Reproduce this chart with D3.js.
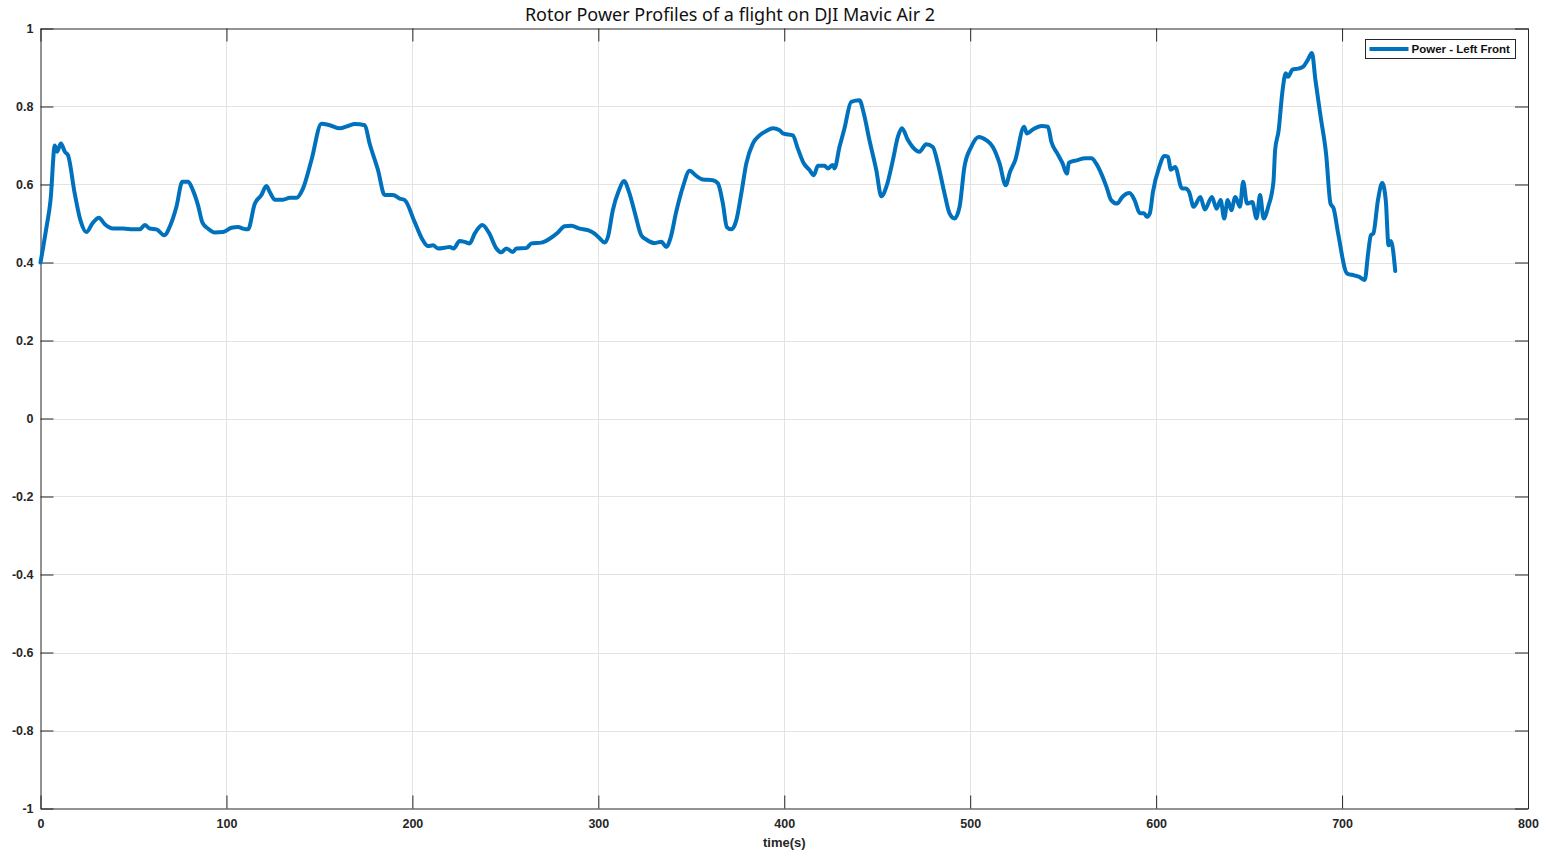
<!DOCTYPE html>
<meta charset="utf-8">
<head>
  <title>Rotor Power Profiles</title>
</head>
<style>
body {
  margin: 0;
  background: white;
}
svg text {
  font-family: "Liberation Sans", Arial, sans-serif;
}
.tick text {
  font-size: 12.5px;
  font-weight: bold;
  fill: #262626;
}
.grid line {
  stroke: #e3e3e3;
  stroke-width: 1;
}
</style>
<body>
<div id="chart"></div>
<script src="https://cdnjs.cloudflare.com/ajax/libs/d3/7.8.5/d3.min.js"></script>
<script>
// time (s) samples
var time = [0, 3.2, 5.4, 7.7, 8.9, 11, 13.1, 14.8, 18.4, 21.5, 24.7, 27.9, 31.4, 34.6, 39, 44.4, 49.8, 53.4, 56.1, 58.8,
  62.4, 66.5, 69.9, 73.1, 76.3, 79.4, 82, 84.7, 87.1, 90.1, 93.7, 98.2, 102.7, 106.3, 108.9, 111.6, 115.2, 118.8, 121.5, 123.3,
  126, 130.5, 134.1, 137.7, 141.2, 145.7, 151.1, 155.5, 160.9, 165.4, 169, 174.4, 177, 181.5, 185.1, 189.6, 193.2, 195.9, 201.2, 205.4,
  208.4, 211.1, 213.8, 217.4, 220.1, 222.2, 225.4, 228.1, 230.8, 233.5, 237.6, 241.2, 245.2, 247.8, 250.5, 254.1, 255.9, 261.3, 264, 269.4,
  273.8, 278.3, 281.9, 285.5, 289.9, 294.4, 298, 300.7, 303.4, 305.2, 307.8, 311.1, 313.8, 316.5, 319.5, 323.1, 325.8, 330.3, 333.9, 336.6,
  338.9, 341.9, 345.5, 349.1, 352.7, 356.2, 361.6, 364.3, 367, 369.1, 371.5, 374.2, 376.9, 379.6, 383.1, 386.7, 390.3, 393.9, 397.5, 399.3,
  404.6, 407.3, 410.4, 413.6, 415.9, 418.1, 421.7, 423.4, 426.1, 427, 429.7, 432.4, 436, 440.5, 442.6, 445.8, 449.5, 452.2, 454.9, 458.4,
  461.1, 463.3, 466.5, 469.1, 472.7, 476.3, 479.9, 482.6, 486.2, 488.9, 491.6, 494.3, 496.9, 500.5, 504.6, 508.6, 512.2, 515.8, 519.1, 521.4,
  524.2, 529, 530.5, 533.7, 538.4, 541.8, 543.7, 546.9, 549.7, 552, 553.1, 557.3, 562, 565.2, 567.7, 570.5, 573.3, 575.8, 579, 581.8,
  585.7, 588.4, 591.3, 593.5, 595, 596.6, 598.3, 601.7, 604.5, 606.4, 607.9, 610.2, 613.9, 615.9, 617.7, 620.2, 623.8, 626.2, 630, 632.5,
  634.7, 636.6, 638.5, 640.4, 642.6, 645.1, 646.8, 648.9, 651.7, 654, 655.9, 657.8, 660.3, 663.1, 664, 665.9, 667.8, 669.7, 670.9, 673.4,
  676.3, 679.1, 681.5, 683.8, 685.7, 688.5, 691.4, 693.8, 695.5, 697.9, 702.7, 706.5, 709.3, 712.2, 714, 715.5, 716.8, 719.3, 721.6, 723.5,
  725, 726.3, 728.6];

// normalised power of the left front rotor
var powerLeftFront = [0.40, 0.49, 0.56, 0.70, 0.684, 0.705, 0.684, 0.675, 0.577, 0.508, 0.478, 0.50, 0.515, 0.498, 0.487, 0.487, 0.485, 0.485, 0.496, 0.487,
  0.485, 0.47, 0.496, 0.543, 0.607, 0.607, 0.585, 0.547, 0.502, 0.487, 0.477, 0.478, 0.489, 0.491, 0.487, 0.485, 0.55, 0.573, 0.596, 0.581,
  0.561, 0.561, 0.566, 0.566, 0.59, 0.662, 0.756, 0.752, 0.744, 0.75, 0.755, 0.752, 0.705, 0.637, 0.573, 0.573, 0.564, 0.56, 0.504, 0.459,
  0.442, 0.444, 0.436, 0.438, 0.44, 0.436, 0.455, 0.453, 0.449, 0.474, 0.496, 0.476, 0.436, 0.426, 0.436, 0.427, 0.436, 0.437, 0.449, 0.451,
  0.461, 0.477, 0.493, 0.494, 0.487, 0.483, 0.474, 0.462, 0.451, 0.466, 0.534, 0.585, 0.609, 0.581, 0.53, 0.47, 0.459, 0.45, 0.453, 0.44,
  0.464, 0.53, 0.594, 0.635, 0.622, 0.613, 0.611, 0.603, 0.551, 0.491, 0.485, 0.508, 0.577, 0.654, 0.705, 0.726, 0.737, 0.744, 0.739, 0.731,
  0.726, 0.692, 0.655, 0.637, 0.624, 0.648, 0.648, 0.641, 0.65, 0.641, 0.696, 0.744, 0.812, 0.816, 0.786, 0.714, 0.637, 0.57, 0.594, 0.662,
  0.722, 0.744, 0.714, 0.696, 0.684, 0.703, 0.696, 0.654, 0.577, 0.526, 0.513, 0.543, 0.645, 0.696, 0.722, 0.714, 0.696, 0.654, 0.598, 0.632,
  0.662, 0.748, 0.731, 0.741, 0.75, 0.748, 0.709, 0.679, 0.654, 0.628, 0.656, 0.662, 0.667, 0.667, 0.654, 0.628, 0.594, 0.56, 0.551, 0.568,
  0.578, 0.56, 0.526, 0.526, 0.517, 0.526, 0.581, 0.645, 0.673, 0.671, 0.638, 0.645, 0.59, 0.59, 0.581, 0.543, 0.568, 0.536, 0.568, 0.538,
  0.56, 0.513, 0.56, 0.534, 0.568, 0.543, 0.607, 0.551, 0.555, 0.513, 0.573, 0.513, 0.543, 0.607, 0.688, 0.739, 0.833, 0.885, 0.876, 0.895,
  0.897, 0.902, 0.919, 0.937, 0.867, 0.773, 0.679, 0.551, 0.538, 0.474, 0.372, 0.367, 0.363, 0.355, 0.423, 0.47, 0.474, 0.56, 0.604, 0.56,
  0.444, 0.455, 0.378];

var xTicks = [0, 100, 200, 300, 400, 500, 600, 700, 800];
var yTicks = [-1, -0.8, -0.6, -0.4, -0.2, 0, 0.2, 0.4, 0.6, 0.8, 1];
var titleText = "Rotor Power Profiles of a flight on DJI Mavic Air 2";
var xLabel = "time(s)";
var legendLabel = "Power - Left Front";

var width = 1552, height = 853;
var margin = {top: 28.5, right: 24, bottom: 44.5, left: 40.5};
var lineColor = "#0072bd";

var svg = d3.select("#chart").append("svg")
    .attr("width", width)
    .attr("height", height);

var x = d3.scaleLinear().domain([0, 800]).range([margin.left, width - margin.right]);
var y = d3.scaleLinear().domain([-1, 1]).range([height - margin.bottom, margin.top]);

// grid
svg.append("g").attr("class", "grid")
  .selectAll("line.v").data(xTicks.slice(1, -1)).enter().append("line")
    .attr("x1", function(d) { return Math.round(x(d)) + 0.5; })
    .attr("x2", function(d) { return Math.round(x(d)) + 0.5; })
    .attr("y1", y(-1)).attr("y2", y(1));
svg.select(".grid")
  .selectAll("line.h").data(yTicks.slice(1, -1)).enter().append("line")
    .attr("y1", function(d) { return Math.round(y(d)) + 0.5; })
    .attr("y2", function(d) { return Math.round(y(d)) + 0.5; })
    .attr("x1", x(0)).attr("x2", x(800));

// axes, MATLAB style ticks pointing inward; plain hyphen for negatives
var yFormat = function(d) { return String(+d.toFixed(1)); };
var xAxis = d3.axisBottom(x).tickValues(xTicks).tickFormat(d3.format("d")).tickSizeInner(-13).tickSizeOuter(0).tickPadding(8);
var yAxis = d3.axisLeft(y).tickValues(yTicks).tickFormat(yFormat)
    .tickSizeInner(-13).tickSizeOuter(0).tickPadding(7);

var gx = svg.append("g").attr("transform", "translate(0," + y(-1) + ")").call(xAxis);
var gy = svg.append("g").attr("transform", "translate(" + x(0) + ",0)").call(yAxis);
svg.append("g").attr("transform", "translate(0," + y(1) + ")")
  .call(d3.axisTop(x).tickValues(xTicks).tickSizeInner(-13).tickSizeOuter(0).tickFormat(""));
svg.append("g").attr("transform", "translate(" + x(800) + ",0)")
  .call(d3.axisRight(y).tickValues(yTicks).tickSizeInner(-13).tickSizeOuter(0).tickFormat(""));

svg.selectAll(".domain").attr("stroke", "#262626");
svg.selectAll(".tick line").attr("stroke", "#262626");
gx.selectAll(".tick text").attr("dy", "0.9em");
gy.selectAll(".tick text").attr("dy", "0.3em");

// the power curve
var points = time.map(function(t, i) { return [t, powerLeftFront[i]]; });
var line = d3.line()
    .x(function(d) { return x(d[0]); })
    .y(function(d) { return y(d[1]); })
    .curve(d3.curveMonotoneX);

svg.append("path")
  .datum(points)
  .attr("fill", "none")
  .attr("stroke", lineColor)
  .attr("stroke-width", 4)
  .attr("stroke-linejoin", "round")
  .attr("stroke-linecap", "round")
  .attr("d", line);

// title and label
svg.append("text")
  .attr("x", 730).attr("y", 21)
  .attr("text-anchor", "middle")
  .style("font-family", "'Source Sans Pro', 'Noto Sans', sans-serif")
  .style("font-size", "18px")
  .style("fill", "#111")
  .text(titleText);

svg.append("text")
  .attr("x", x(400)).attr("y", 847)
  .attr("text-anchor", "middle")
  .style("font-size", "13px")
  .style("font-weight", "bold")
  .style("fill", "#262626")
  .text(xLabel);

// legend
var legend = svg.append("g").attr("transform", "translate(1365.5,39.5)");
legend.append("rect")
  .attr("width", 150).attr("height", 19)
  .attr("fill", "white").attr("stroke", "#262626").attr("stroke-width", 1);
legend.append("line")
  .attr("x1", 4).attr("x2", 43).attr("y1", 9.5).attr("y2", 9.5)
  .attr("stroke", lineColor).attr("stroke-width", 4);
legend.append("text")
  .attr("x", 46).attr("y", 13.5)
  .style("font-size", "11.5px").style("font-weight", "bold").style("fill", "#111")
  .text(legendLabel);
</script>
</body>
</html>
